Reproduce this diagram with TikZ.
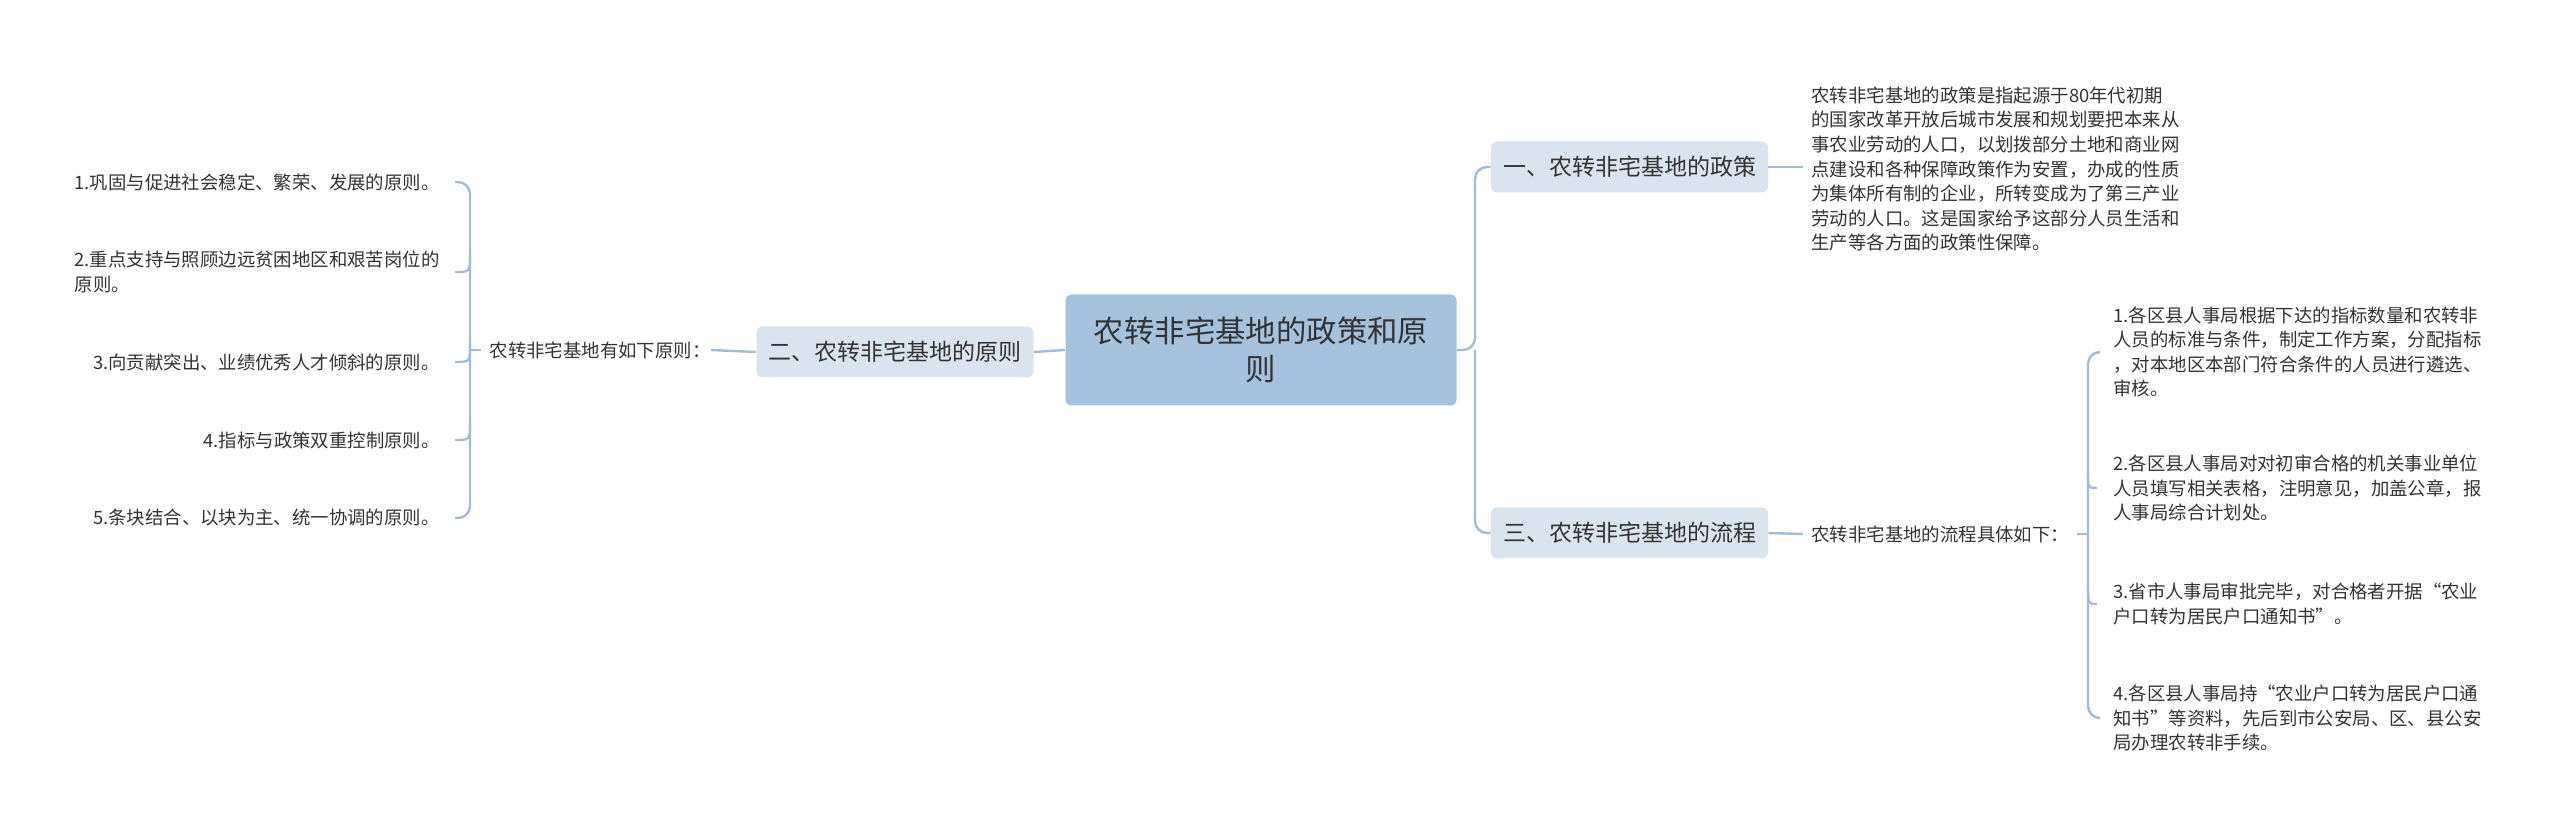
\documentclass[tikz,border=0pt]{standalone}
\usepackage{fontspec}
\setmainfont{Noto Sans CJK SC}
\definecolor{lc}{HTML}{A3BCD6}
\definecolor{cfill}{HTML}{A6C1DC}
\definecolor{bfill}{HTML}{DAE4EE}
\definecolor{tc}{HTML}{333333}
\tikzset{
 ln/.style={draw=lc,line width=1.2pt,rounded corners=6pt},
 centerbox/.style={fill=cfill,rounded corners=3pt,minimum width=195.5pt,minimum height=55.5pt,align=center,text=tc,font=\fontsize{15.2pt}{19pt}\selectfont},
 branchbox/.style={fill=bfill,rounded corners=3pt,minimum width=138.5pt,minimum height=25.5pt,text=tc,font=\fontsize{11.5pt}{14pt}\selectfont},
 small/.style={text=tc,font=\fontsize{9.2pt}{12.3pt}\selectfont,inner sep=0pt}
}
\begin{document}
\begin{tikzpicture}[x=0.5pt,y=-0.5pt]
\useasboundingbox (0,0) rectangle (2560,838);
\node[centerbox] (c) at (1261,350) {农转非宅基地的政策和原\\则};
\node[branchbox] (b1) at (1629.5,167) {一、农转非宅基地的政策};
\node[branchbox] (b2) at (895,352) {二、农转非宅基地的原则};
\node[branchbox] (b3) at (1629.5,533) {三、农转非宅基地的流程};
\node[small,anchor=west,align=left] (p) at (1811,169) {农转非宅基地的政策是指起源于80年代初期\\的国家改革开放后城市发展和规划要把本来从\\事农业劳动的人口，以划拨部分土地和商业网\\点建设和各种保障政策作为安置，办成的性质\\为集体所有制的企业，所转变成为了第三产业\\劳动的人口。这是国家给予这部分人员生活和\\生产等各方面的政策性保障。};
\node[small,anchor=west] (fl) at (1811,534) {农转非宅基地的流程具体如下：};
\node[small,anchor=west,align=left] (f1) at (2113,352) {1.各区县人事局根据下达的指标数量和农转非\\人员的标准与条件，制定工作方案，分配指标\\，对本地区本部门符合条件的人员进行遴选、\\审核。};
\node[small,anchor=west,align=left] (f2) at (2113,488) {2.各区县人事局对对初审合格的机关事业单位\\人员填写相关表格，注明意见，加盖公章，报\\人事局综合计划处。};
\node[small,anchor=west,align=left] (f3) at (2113,604) {3.省市人事局审批完毕，对合格者开据“农业\\户口转为居民户口通知书”。};
\node[small,anchor=west,align=left] (f4) at (2113,718) {4.各区县人事局持“农业户口转为居民户口通\\知书”等资料，先后到市公安局、区、县公安\\局办理农转非手续。};
\node[small] (ll) at (600,350) {农转非宅基地有如下原则：};
\node[small,anchor=east] (l1) at (440,182) {1.巩固与促进社会稳定、繁荣、发展的原则。};
\node[small,anchor=east,align=left] (l2) at (440,272) {2.重点支持与照顾边远贫困地区和艰苦岗位的\\原则。};
\node[small,anchor=east] (l3) at (440,362) {3.向贡献突出、业绩优秀人才倾斜的原则。};
\node[small,anchor=east] (l4) at (440,440) {4.指标与政策双重控制原则。};
\node[small,anchor=east] (l5) at (440,518) {5.条块结合、以块为主、统一协调的原则。};
% center connectors
\coordinate (rt) at (1475,350);
\draw[ln] (c.east) -- (rt) |- (b1.west);
\draw[ln] (rt) |- (b3.west);
\draw[ln] (c.west) -- (b2.east);
\draw[ln] (b2.west) -- (ll.east);
\draw[ln] (b1.east) -- ([xshift=-4pt]p.west |- b1.east);
\draw[ln] (b3.east) -- ([xshift=-4pt]fl.west);
% right bracket
\coordinate (rb) at (2088,534);
\draw[ln] (fl.east) ++(4pt,0) -- (rb);
\draw[ln] ([xshift=-8pt]f1.west) -- (2088,352) -- (2088,718) -- ([xshift=-8pt]f4.west);
\draw[ln] (2088,472) .. controls (2088,488) .. ([xshift=-8pt]f2.west);
\draw[ln] (2088,586) .. controls (2088,604) .. ([xshift=-8pt]f3.west);
% left bracket
\coordinate (lb) at (470,350);
\draw[ln] ([xshift=-4pt]ll.west) -- (lb);
\draw[ln] (455,182) -- (470,182) -- (470,518) -- (455,518);
\draw[ln] (470,254) .. controls (470,272) .. (455,272);
\draw[ln] (470,344) .. controls (470,362) .. (455,362);
\draw[ln] (470,422) .. controls (470,440) .. (455,440);
\end{tikzpicture}
\end{document}
